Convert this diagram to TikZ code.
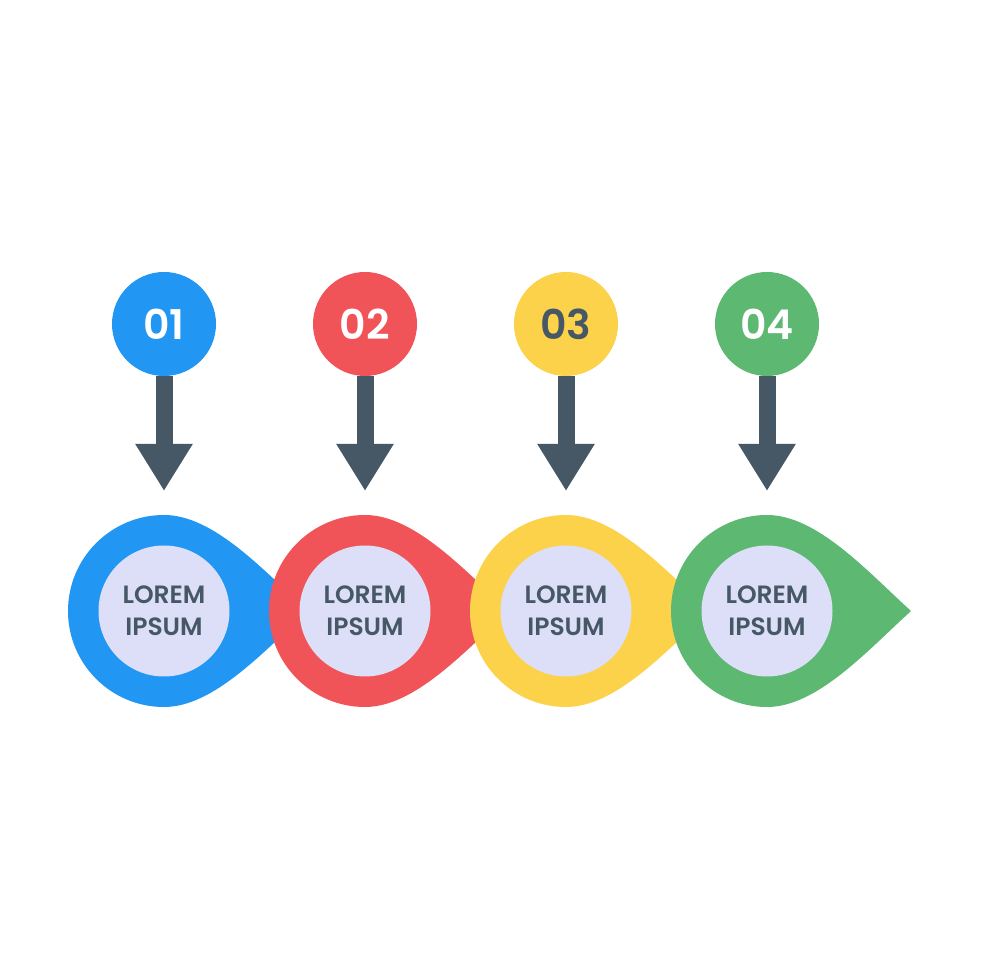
\documentclass[tikz,border=0pt]{standalone}
\usepackage{fontspec}
\setmainfont{Poppins}[BoldFont={Poppins SemiBold}]
\usetikzlibrary{arrows.meta}
\definecolor{cblue}{RGB}{33,150,243}
\definecolor{cred}{RGB}{240,84,89}
\definecolor{cyellow}{RGB}{253,210,75}
\definecolor{cgreen}{RGB}{93,184,114}
\definecolor{clav}{RGB}{220,223,247}
\definecolor{cdark}{RGB}{70,88,102}
\tikzset{
  numdot/.style={circle, minimum size=104pt, inner sep=0pt, font=\fontsize{41}{41}\selectfont\bfseries},
  innerdot/.style={circle, fill=clav, minimum size=131pt, inner sep=0pt, align=center, text=cdark, font=\fontsize{25}{32}\selectfont\bfseries},
  downarrow/.style={cdark, line width=17pt, -{Triangle[width=54pt,length=47pt]}}
}
\begin{document}
\begin{tikzpicture}[x=1pt,y=1pt]
\useasboundingbox[fill=white] (0,0) rectangle (980,980);
\foreach \i/\x/\c/\tc in {1/164/cblue/white, 2/365/cred/white, 3/566/cyellow/cdark, 4/767/cgreen/white}{
  \begin{scope}[shift={(\x,369)}]
    \fill[\c] (0,96) .. controls (50,96) and (100,40) .. (144,0)
      .. controls (100,-40) and (50,-96) .. (0,-96)
      arc[start angle=270, end angle=90, radius=96] -- cycle;
  \end{scope}
  \node[innerdot] (t\i) at (\x,369) {LOREM\\IPSUM};
  \coordinate (a\i) at (\x,489);
  \node[numdot, fill=\c, text=\tc] (n\i) at (\x,656) {0\i};
  \draw[downarrow] (n\i.south) -- (a\i);
}
\end{tikzpicture}
\end{document}
